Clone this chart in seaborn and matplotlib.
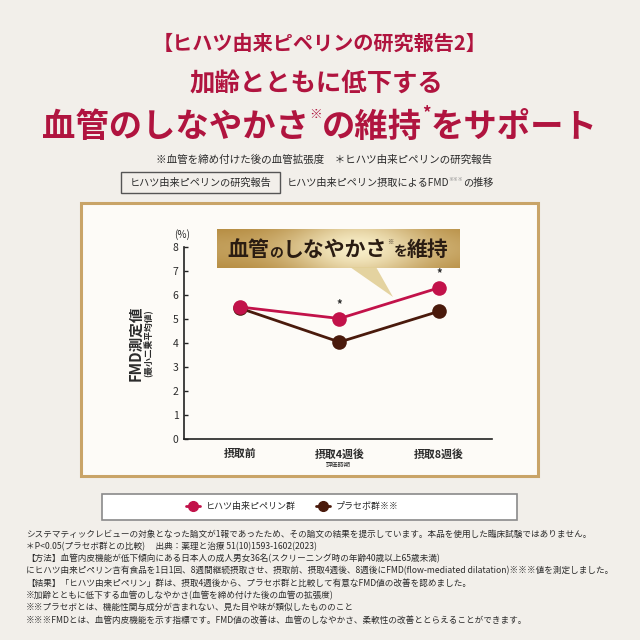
import numpy as np
import pandas as pd
import matplotlib
matplotlib.use("Agg")
import matplotlib.pyplot as plt
import seaborn as sns
from matplotlib.patches import Rectangle, Polygon
from matplotlib.lines import Line2D

# ---------------- data ----------------
timepoints = ["摂取前", "摂取4週後", "摂取8週後"]
piperine = [5.5, 5.02, 6.3]
placebo = [5.45, 4.04, 5.32]
group_names = ["ヒハツ由来ピペリン群", "プラセボ群"]
yticks = [0, 1, 2, 3, 4, 5, 6, 7, 8]
sig_marks = ["", "*", "*"]

footnotes = [
    "システマティックレビューの対象となった論文が1報であったため、その論文の結果を提示しています。本品を使用した臨床試験ではありません。",
    "＊P<0.05(プラセボ群との比較)　 出典：薬理と治療 51(10)1593-1602(2023)",
    "【方法】血管内皮機能が低下傾向にある日本人の成人男女36名(スクリーニング時の年齢40歳以上65歳未満)",
    "にヒハツ由来ピペリン含有食品を1日1回、8週間継続摂取させ、摂取前、摂取4週後、8週後にFMD(flow-mediated dilatation)※※※値を測定しました。",
    "【結果】「ヒハツ由来ピペリン」群は、摂取4週後から、プラセボ群と比較して有意なFMD値の改善を認めました。",
    "※加齢とともに低下する血管のしなやかさ(血管を締め付けた後の血管の拡張度)",
    "※※プラセボとは、機能性関与成分が含まれない、見た目や味が類似したもののこと",
    "※※※FMDとは、血管内皮機能を示す指標です。FMD値の改善は、血管のしなやかさ、柔軟性の改善ととらえることができます。",
]

df = pd.DataFrame({
    "time": timepoints * 2,
    "value": placebo + piperine,
    "group": [group_names[1]] * 3 + [group_names[0]] * 3,
})

# ---------------- style ----------------
BG = "#f2efea"
PANEL = "#fdfbf7"
GOLD = "#c9a468"
RED = "#c2124a"
BROWN = "#4a1a0c"
CRIMSON = "#b0143f"
TXT = "#2b2b2b"

sns.set_theme(style="white")
plt.rcParams["font.family"] = ["Noto Sans CJK JP", "DejaVu Sans"]

W = H = 640
fig = plt.figure(figsize=(6.4, 6.4), dpi=100)
fig.patch.set_facecolor(BG)
renderer = fig.canvas.get_renderer()


def fx(x):
    return x / W


def fy(y):
    return 1 - y / H


def runs(xc, y, parts, color, weight="bold"):
    """Lay out text runs side by side centered at pixel xc, baseline y."""
    objs, widths = [], []
    for s, size, dy, col in parts:
        t = fig.text(0, fy(y + dy), s, fontsize=size, color=col or color,
                     weight=weight, va="baseline", ha="left", zorder=6)
        widths.append(t.get_window_extent(renderer).width)
        objs.append(t)
    x0 = xc - sum(widths) / 2
    for t, w, (s, size, dy, col) in zip(objs, widths, parts):
        t.set_x(fx(x0))
        x0 += w
    return objs


# ---------------- header ----------------
fig.text(fx(320), fy(43), "【ヒハツ由来ピペリンの研究報告2】", fontsize=14.5,
         color=CRIMSON, ha="center", va="center", weight="bold")
fig.text(fx(316), fy(84), "加齢とともに低下する", fontsize=18.3,
         color=CRIMSON, ha="center", va="center", weight="bold")
runs(320, 137, [("血管のしなやかさ", 24, 0, None), ("※", 9, -19, None),
                ("の維持", 24, 0, None), ("*", 12, -19, None),
                ("をサポート", 24, 0, None)], CRIMSON)
fig.text(fx(324), fy(160), "※血管を締め付けた後の血管拡張度　＊ヒハツ由来ピペリンの研究報告",
         fontsize=7.6, color=TXT, ha="center", va="center")

fig.patches.append(Rectangle((fx(121), fy(193)), (280 - 121) / W, (193 - 172) / H,
                             transform=fig.transFigure, fc="none", ec="#555555",
                             lw=1.0, zorder=2))
fig.text(fx(200.5), fy(182.5), "ヒハツ由来ピペリンの研究報告", fontsize=7.3,
         color=TXT, ha="center", va="center")
runs(390, 186, [("ヒハツ由来ピペリン摂取によるFMD", 7.3, 0, None),
                ("※※※", 3.5, -5, "#888888"), ("の推移", 7.3, 0, None)],
     TXT, weight="normal")

# ---------------- chart panel ----------------
fig.patches.append(Rectangle((fx(81), fy(476)), (538 - 81) / W, (476 - 203) / H,
                             transform=fig.transFigure, fc=PANEL, ec=GOLD,
                             lw=2.2, zorder=-5))

ax = fig.add_axes([fx(184), fy(439), (492 - 184) / W, (439 - 247) / H])
ax.set_facecolor("none")
sns.lineplot(data=df, x="time", y="value", hue="group",
             hue_order=[group_names[1], group_names[0]],
             palette={group_names[0]: RED, group_names[1]: BROWN},
             marker="o", markersize=10.5, markeredgewidth=0, linewidth=2.0,
             sort=False, legend=False, ax=ax, zorder=4)

ax.set_ylim(0, 8)
ax.set_xlim(-0.563, 2.533)
ax.set_yticks(yticks)
ax.set_yticklabels([str(v) for v in yticks], fontsize=7.5, color=TXT)
ax.set_xticks(range(len(timepoints)))
ax.set_xticklabels(timepoints, fontsize=7.8, color=TXT, weight="bold")
ax.tick_params(axis="y", direction="in", length=3, width=1, color="#222222",
               pad=4, left=True)
ax.tick_params(axis="x", length=0, pad=7)
for s in ["top", "right"]:
    ax.spines[s].set_visible(False)
for s in ["left", "bottom"]:
    ax.spines[s].set_color("#222222")
    ax.spines[s].set_linewidth(1.2)
ax.set_xlabel("評価時期", fontsize=4.5, color=TXT, labelpad=1)
ax.set_ylabel("")

for i, m in enumerate(sig_marks):
    if m:
        ax.annotate(m, (i, piperine[i]), xytext=(0, 10), textcoords="offset points",
                    ha="center", va="center", fontsize=8, color=TXT, weight="bold")

fig.text(fx(135), fy(343), "FMD測定値", rotation=90, fontsize=10.5, weight="bold",
         color=TXT, ha="center", va="center")
fig.text(fx(149), fy(343), "(最小二乗平均値)", rotation=90, fontsize=6.3,
         weight="bold", color=TXT, ha="center", va="center")
fig.text(fx(182), fy(235), "(%)", fontsize=7.2, color=TXT, ha="center", va="center")

# ---------------- gold banner ----------------
fig.patches.append(Polygon([(fx(350), fy(267)), (fx(376), fy(267)), (fx(393), fy(297))],
                           closed=True, transform=fig.transFigure,
                           fc="#e2cf97", ec="none", alpha=0.9, zorder=5))
bax = fig.add_axes([fx(217), fy(268), (460 - 217) / W, (268 - 229) / H], zorder=5)
xg = np.linspace(0, 1, 256)
prof = 0.55 + 0.45 * np.exp(-((xg - 0.58) / 0.28) ** 2)
yg = np.linspace(0, 1, 40)[:, None]
vprof = 0.85 + 0.15 * np.sin(np.pi * yg)
val = prof[None, :] * vprof
c0 = np.array([0.72, 0.56, 0.27])
c1 = np.array([0.97, 0.93, 0.78])
img = c0 + (c1 - c0) * ((val - val.min()) / (val.max() - val.min()))[..., None]
bax.imshow(img, aspect="auto", extent=(0, 1, 0, 1))
bax.set_axis_off()
runs(338, 256, [("血管", 15, 0, None), ("の", 10, 0, None),
                ("しなやかさ", 15, 0, None), ("※", 4.5, -12, None),
                ("を", 10, 0, None), ("維持", 15, 0, None)], "#2a1c12")

# ---------------- legend ----------------
fig.patches.append(Rectangle((fx(102), fy(520)), (517 - 102) / W, (520 - 494) / H,
                             transform=fig.transFigure, fc="white", ec="#8a8a8a",
                             lw=1.2, zorder=2))
handles = [Line2D([], [], color=RED, marker="o", markersize=7, lw=2),
           Line2D([], [], color=BROWN, marker="o", markersize=7, lw=2)]
leg = fig.legend(handles, [group_names[0], group_names[1] + "※※"], ncol=2,
                 loc="center", bbox_to_anchor=(fx(292), fy(507)), frameon=False,
                 fontsize=6.5, handlelength=1.6, handletextpad=0.6,
                 columnspacing=2.2)
leg.set_zorder(6)

# ---------------- footnotes ----------------
for i, line in enumerate(footnotes):
    fig.text(fx(26), fy(534 + i * 12.3), line, fontsize=6.2, color=TXT,
             ha="left", va="center")

fig.savefig("out.png", dpi=100, facecolor=BG)
